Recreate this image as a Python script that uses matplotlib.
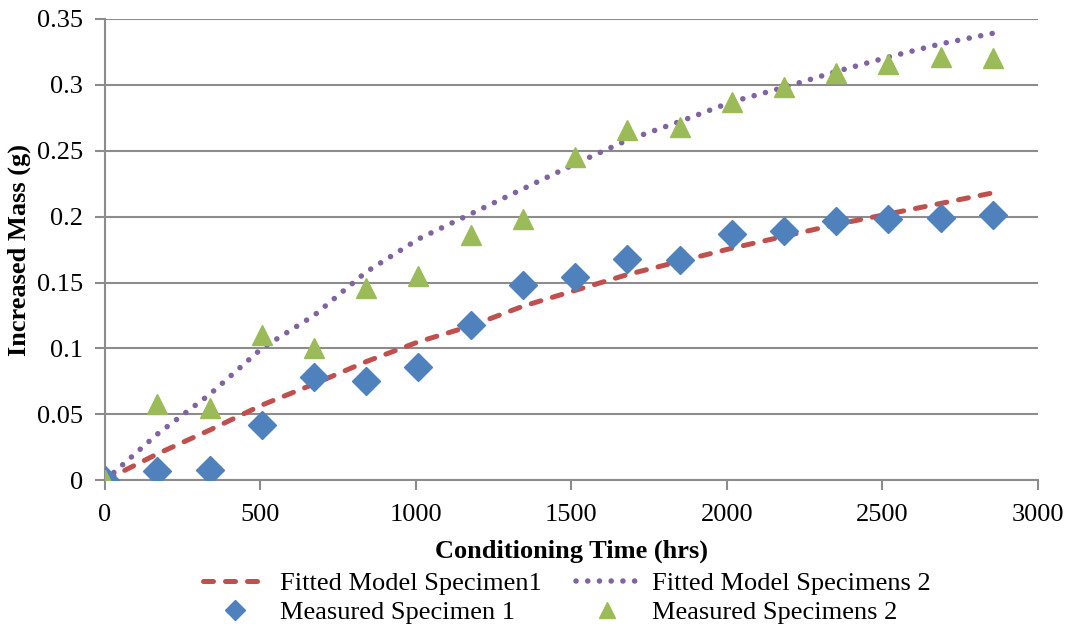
import matplotlib
matplotlib.use("Agg")
import matplotlib.pyplot as plt

# Conditioning times (hrs)
hours = [0, 168, 336, 504, 672, 840, 1008, 1176, 1344, 1512,
         1680, 1848, 2016, 2184, 2352, 2520, 2688, 2856]

# Measured mass gain (g)
measured_1 = [0.000, 0.007, 0.008, 0.042, 0.078, 0.075, 0.086, 0.118, 0.148,
              0.154, 0.168, 0.167, 0.187, 0.189, 0.197, 0.198, 0.199, 0.201]
measured_2 = [0.000, 0.058, 0.055, 0.110, 0.100, 0.146, 0.155, 0.186, 0.198,
              0.245, 0.266, 0.268, 0.287, 0.298, 0.309, 0.316, 0.321, 0.320]

# Fitted model curves (g)
fitted_1 = [0.000, 0.020, 0.038, 0.057, 0.073, 0.090, 0.105, 0.117, 0.132,
            0.144, 0.156, 0.166, 0.176, 0.185, 0.194, 0.202, 0.210, 0.218]
fitted_2 = [0.000, 0.035, 0.065, 0.100, 0.125, 0.158, 0.183, 0.202, 0.221,
            0.240, 0.258, 0.272, 0.287, 0.298, 0.310, 0.321, 0.331, 0.339]

x_ticks = [0, 500, 1000, 1500, 2000, 2500, 3000]
y_ticks = [0, 0.05, 0.1, 0.15, 0.2, 0.25, 0.3, 0.35]
y_tick_labels = ["0", "0.05", "0.1", "0.15", "0.2", "0.25", "0.3", "0.35"]

plt.rcParams["font.family"] = ["Liberation Serif", "DejaVu Serif"]

fig = plt.figure(figsize=(10.72, 6.27), dpi=100)
ax = fig.add_axes([0.098, 0.234, 0.870, 0.736])

grid_color = "#8c8c8c"
fs = 19

l1, = ax.plot(hours, fitted_1, color="#C0504D", lw=3.6,
              linestyle=(0, (2.0, 2.4)), dash_capstyle="round",
              label="Fitted Model Specimen1", zorder=3)
l2, = ax.plot(hours, fitted_2, color="#8064A2", lw=4.0,
              linestyle=(0, (0.01, 2.1)), dash_capstyle="round",
              label="Fitted Model Specimens 2", zorder=3)
m1, = ax.plot(hours, measured_1, linestyle="none", marker="D", markersize=14,
              color="#4F81BD", markeredgecolor="#4F81BD",
              label="Measured Specimen 1", zorder=4)
m2, = ax.plot(hours, measured_2, linestyle="none", marker="^", markersize=14.5,
              color="#9BBB59", markeredgecolor="#9BBB59",
              label="Measured Specimens 2", zorder=4)

ax.set_xlim(0, 3000)
ax.set_ylim(0, 0.35)
ax.set_xticks(x_ticks)
ax.set_yticks(y_ticks)
ax.set_yticklabels(y_tick_labels)

ax.yaxis.grid(True, color=grid_color, lw=1.5)
ax.set_axisbelow(True)
for side in ("top", "right"):
    ax.spines[side].set_visible(False)
for side in ("left", "bottom"):
    ax.spines[side].set_color(grid_color)
    ax.spines[side].set_linewidth(1.5)

ax.tick_params(axis="both", direction="out", length=7, width=1.5,
               color=grid_color, labelsize=fs)
ax.tick_params(axis="x", pad=10)
ax.tick_params(axis="y", pad=9)

ax.set_xlabel("Conditioning Time (hrs)", fontsize=fs, fontweight="bold",
              labelpad=10)
ax.set_ylabel("Increased Mass (g)", fontsize=fs, fontweight="bold",
              labelpad=4)

fig.legend(handles=[l1, m1, l2, m2], loc="lower center",
           bbox_to_anchor=(0.529, -0.025), ncol=2, frameon=False,
           fontsize=fs, handlelength=2.4, columnspacing=1.3,
           handletextpad=0.5, labelspacing=0.2, markerscale=0.75,
           borderaxespad=0.3)

fig.savefig("out.png", dpi=100)
